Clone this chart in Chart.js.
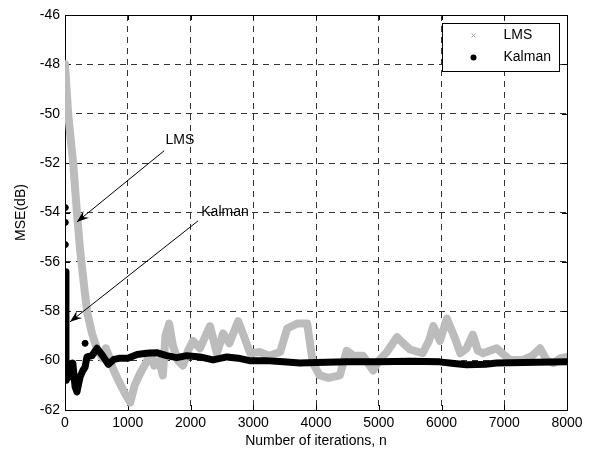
<!DOCTYPE html>
<html>
<head>
<meta charset="utf-8">
<script src="https://cdn.jsdelivr.net/npm/chart.js@4.4.0/dist/chart.umd.min.js"></script>
<style>
  html, body { margin: 0; padding: 0; background: #fff; }
</style>
</head>
<body>
<canvas id="mseChart" width="595" height="450"></canvas>
<script>
const xTicks = [0, 1000, 2000, 3000, 4000, 5000, 6000, 7000, 8000];
const yTicks = [-62, -60, -58, -56, -54, -52, -50, -48, -46];

// LMS learning curve
const lmsIter = [0, 50, 130, 190, 240, 270, 350, 430, 520, 600, 650, 700, 760, 850, 950, 1040, 1110, 1200, 1290,
    1360, 1420, 1500, 1560, 1600, 1660, 1720, 1800, 1880, 1960, 2040, 2150, 2310, 2420, 2520, 2620, 2760, 2850,
    2950, 3100, 3250, 3430, 3540, 3700, 3860, 3950, 4060, 4200, 4380, 4490, 4600, 4750, 4910, 5000, 5130, 5290,
    5390, 5500, 5700, 5800, 5870, 5975, 6085, 6200, 6300, 6400, 6500, 6580, 6660, 6880, 7090, 7300, 7450, 7570,
    7680, 7780, 7900, 8000];
const lmsMse = [-48.0, -50.0, -52.0, -54.0, -55.5, -56.2, -58.0, -58.9, -59.6, -59.9, -59.5, -59.8, -60.3, -60.8,
    -61.3, -61.7, -61.0, -60.5, -60.1, -59.7, -60.2, -60.0, -60.6, -59.0, -58.5, -59.4, -60.0, -60.2, -59.6, -59.2,
    -59.5, -58.6, -59.7, -58.9, -59.3, -58.4, -59.0, -59.7, -59.65, -59.8, -59.65, -58.7, -58.5, -58.5, -60.1,
    -60.6, -60.7, -60.6, -59.6, -59.8, -59.8, -60.4, -60.0, -59.65, -59.05, -59.3, -59.55, -59.7, -59.2, -58.6,
    -59.2, -58.3, -59.0, -59.7, -59.5, -58.95, -59.6, -59.7, -59.5, -59.97, -59.97, -59.8, -59.5, -60.0, -60.1,
    -59.9, -59.85];

// Kalman learning curve
const kalmanIter = [10, 15, 20, 35, 50, 80, 125, 160, 190, 240, 285, 320, 350, 430, 510, 600, 690, 780, 880, 1000,
    1150, 1300, 1460, 1620, 1780, 1940, 2150, 2360, 2580, 2760, 2940, 3200, 3480, 3745, 4000, 4500, 5000, 5500,
    5970, 6200, 6400, 6700, 6880, 7300, 8000];
const kalmanMse = [-56.4, -60.0, -60.8, -60.5, -60.26, -60.66, -60.1, -61.05, -61.27, -60.66, -60.4, -60.26,
    -59.85, -59.8, -59.5, -59.8, -60.15, -59.95, -59.9, -59.9, -59.75, -59.7, -59.68, -59.8, -59.88, -59.8,
    -59.85, -59.97, -59.85, -59.9, -60.0, -60.0, -60.05, -60.1, -60.08, -60.05, -60.05, -60.03, -60.05, -60.12,
    -60.17, -60.15, -60.1, -60.08, -60.05];

// isolated Kalman samples in the first iterations
const kalmanDotIter = [5, 5, 5, 320];
const kalmanDotMse = [-53.8, -54.4, -55.3, -59.3];

const notes = [
    { text: 'LMS', label: [1830, -51.05], from: [1580, -51.5], to: [190, -54.38] },
    { text: 'Kalman', label: [2550, -53.98], from: [2120, -54.34], to: [80, -58.43] }
];

const FONT = "'Liberation Sans', Arial, sans-serif";

function toPoints(xs, ys) {
    return xs.map((x, i) => ({ x: x, y: ys[i] }));
}

function drawArrow(ctx, x1, y1, x2, y2) {
    const a = Math.atan2(y2 - y1, x2 - x1);
    const L = 12, W = 4.5;
    ctx.beginPath();
    ctx.moveTo(x1, y1);
    ctx.lineTo(x2, y2);
    ctx.stroke();
    ctx.beginPath();
    ctx.moveTo(x2, y2);
    ctx.lineTo(x2 - L * Math.cos(a) + W * Math.sin(a), y2 - L * Math.sin(a) - W * Math.cos(a));
    ctx.lineTo(x2 - 0.65 * L * Math.cos(a), y2 - 0.65 * L * Math.sin(a));
    ctx.lineTo(x2 - L * Math.cos(a) - W * Math.sin(a), y2 - L * Math.sin(a) + W * Math.cos(a));
    ctx.closePath();
    ctx.fill();
}

const framePlugin = {
    id: 'frame',
    beforeDatasetsDraw(chart) {
        const { ctx, chartArea: a, scales: { x, y } } = chart;
        ctx.save();
        ctx.strokeStyle = '#000';
        ctx.lineWidth = 1;
        ctx.beginPath();
        xTicks.forEach(v => {
            const px = Math.round(x.getPixelForValue(v)) + 0.5;
            ctx.moveTo(px, a.bottom); ctx.lineTo(px, a.bottom - 5);
            ctx.moveTo(px, a.top); ctx.lineTo(px, a.top + 5);
        });
        yTicks.forEach(v => {
            const py = Math.round(y.getPixelForValue(v)) + 0.5;
            ctx.moveTo(a.left, py); ctx.lineTo(a.left + 5, py);
            ctx.moveTo(a.right, py); ctx.lineTo(a.right - 5, py);
        });
        ctx.stroke();
        ctx.strokeRect(Math.round(a.left) + 0.5, Math.round(a.top) + 0.5,
            Math.round(a.right - a.left), Math.round(a.bottom - a.top));
        ctx.restore();
    },
    afterDatasetsDraw(chart) {
        const { ctx, chartArea: a, scales: { x, y } } = chart;
        ctx.save();
        // annotations
        ctx.fillStyle = '#000';
        ctx.strokeStyle = '#000';
        ctx.lineWidth = 1;
        ctx.font = '14px ' + FONT;
        ctx.textAlign = 'center';
        ctx.textBaseline = 'middle';
        notes.forEach(n => {
            ctx.fillText(n.text, x.getPixelForValue(n.label[0]), y.getPixelForValue(n.label[1]));
            drawArrow(ctx, x.getPixelForValue(n.from[0]), y.getPixelForValue(n.from[1]),
                x.getPixelForValue(n.to[0]), y.getPixelForValue(n.to[1]));
        });

        // legend box
        const items = chart.data.datasets.filter(d => d.inLegend);
        const bw = 117, bh = 48;
        const bx = Math.round(a.right - 8 - bw) + 0.5, by = Math.round(a.top + 8) + 0.5;
        ctx.fillStyle = '#fff';
        ctx.fillRect(bx, by, bw, bh);
        ctx.strokeRect(bx, by, bw, bh);
        ctx.textAlign = 'left';
        items.forEach((d, i) => {
            const cy = by + 12 + i * 22;
            const mx = bx + 31;
            if (d.legendMark === 'x') {
                ctx.strokeStyle = '#a8a8a8';
                ctx.beginPath();
                ctx.moveTo(mx - 2, cy - 2); ctx.lineTo(mx + 2, cy + 2);
                ctx.moveTo(mx + 2, cy - 2); ctx.lineTo(mx - 2, cy + 2);
                ctx.stroke();
            } else {
                ctx.fillStyle = '#000';
                ctx.beginPath();
                ctx.arc(mx, cy, 3, 0, Math.PI * 2);
                ctx.fill();
            }
            ctx.fillStyle = '#000';
            ctx.fillText(d.label, bx + 61, cy);
        });
        ctx.restore();
    }
};

new Chart(document.getElementById('mseChart'), {
    type: 'scatter',
    data: {
        datasets: [
            {
                label: 'LMS',
                data: toPoints(lmsIter, lmsMse),
                showLine: true,
                borderColor: '#bcbcbc',
                borderWidth: 8,
                borderJoinStyle: 'round',
                borderCapStyle: 'round',
                pointRadius: 0,
                tension: 0,
                order: 3,
                inLegend: true,
                legendMark: 'x'
            },
            {
                label: 'Kalman',
                data: toPoints(kalmanIter, kalmanMse),
                showLine: true,
                borderColor: '#000',
                borderWidth: 7,
                borderJoinStyle: 'round',
                borderCapStyle: 'round',
                pointRadius: 0,
                tension: 0,
                order: 2,
                inLegend: true,
                legendMark: 'dot'
            },
            {
                label: 'Kalman (early)',
                data: toPoints(kalmanDotIter, kalmanDotMse),
                showLine: false,
                backgroundColor: '#000',
                borderColor: '#000',
                pointRadius: 3,
                order: 1
            }
        ]
    },
    options: {
        responsive: false,
        animation: false,
        devicePixelRatio: 1,
        layout: { padding: { top: 15, right: 28, left: 0, bottom: 0 } },
        plugins: {
            legend: { display: false },
            tooltip: { enabled: false }
        },
        scales: {
            x: {
                type: 'linear',
                min: 0,
                max: 8000,
                afterBuildTicks: s => { s.ticks = xTicks.map(v => ({ value: v })); },
                afterFit: s => { s.height = 40; },
                grid: { color: '#333', lineWidth: 1, drawTicks: false, tickLength: 0 },
                border: { display: false, dash: [6, 5] },
                ticks: { color: '#000', padding: 5, font: { size: 14, family: FONT }, callback: v => String(v) },
                title: { display: true, text: 'Number of iterations, n', color: '#000', padding: 0, font: { size: 14, family: FONT } }
            },
            y: {
                type: 'linear',
                min: -62,
                max: -46,
                afterBuildTicks: s => { s.ticks = yTicks.map(v => ({ value: v })); },
                afterFit: s => { s.width = 65; },
                grid: { color: '#333', lineWidth: 1, drawTicks: false, tickLength: 0 },
                border: { display: false, dash: [6, 5] },
                ticks: { color: '#000', padding: 5, font: { size: 14, family: FONT }, callback: v => String(v) },
                title: { display: true, text: 'MSE(dB)', color: '#000', padding: { top: 13, bottom: 0 }, font: { size: 14, family: FONT } }
            }
        }
    },
    plugins: [framePlugin]
});
</script>
</body>
</html>
